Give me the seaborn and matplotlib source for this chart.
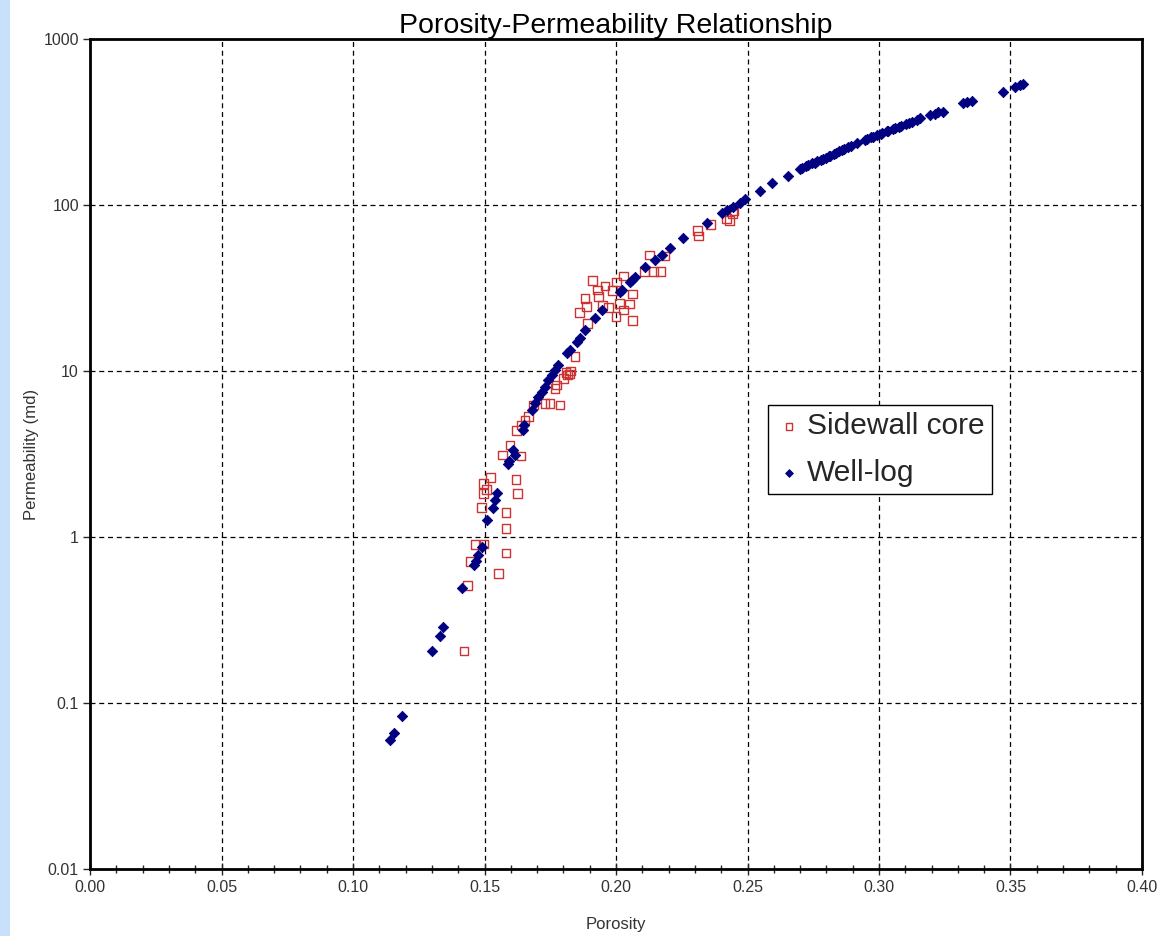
import numpy as np
import pandas as pd
import matplotlib
matplotlib.use("Agg")
import matplotlib.pyplot as plt
import seaborn as sns
from matplotlib.ticker import FixedLocator, MultipleLocator, FuncFormatter
from matplotlib.patches import Rectangle

# Sidewall core measurements
core_porosity = [
    0.1422, 0.1435, 0.1447, 0.1464, 0.1498, 0.1553, 0.1582, 0.1582, 0.1582, 0.1489,
    0.1496, 0.1508, 0.1496, 0.1523, 0.1620, 0.1626, 0.1569, 0.1597, 0.1639, 0.1622,
    0.1641, 0.1654, 0.1667, 0.1686, 0.1730, 0.1749, 0.1787, 0.1768, 0.1775, 0.1800,
    0.1815, 0.1810, 0.1822, 0.1828, 0.1844, 0.1891, 0.1860, 0.1888, 0.1882, 0.1911,
    0.1929, 0.1933, 0.1958, 0.1949, 0.1971, 0.1987, 0.2000, 0.2003, 0.2013, 0.2030,
    0.2030, 0.2051, 0.2063, 0.2063, 0.2127, 0.2108, 0.2142, 0.2170, 0.2186, 0.2309,
    0.2313, 0.2360, 0.2421, 0.2431, 0.2444, 0.2449,
]
core_perm = [
    0.206, 0.509, 0.71, 0.90, 0.908, 0.604, 0.80, 1.12, 1.41, 1.51,
    1.82, 1.94, 2.11, 2.29, 2.23, 1.82, 3.12, 3.58, 3.08, 4.37,
    4.73, 5.07, 5.30, 6.24, 6.39, 6.39, 6.24, 7.87, 8.24, 9.03,
    9.46, 9.80, 9.60, 10.0, 12.2, 19.4, 22.5, 24.4, 27.4, 35.0,
    30.8, 28.0, 32.5, 25.0, 24.2, 30.5, 21.2, 34.4, 25.6, 37.3,
    23.3, 25.3, 29.1, 20.1, 50.0, 39.7, 39.7, 39.7, 49.3, 70.0,
    65.1, 75.9, 83.2, 80.4, 89.0, 92.4,
]

# Well-log derived values
log_porosity = [
    0.1140, 0.1156, 0.1185, 0.1302, 0.1331, 0.1344, 0.1413, 0.1460, 0.1467, 0.1474,
    0.1489, 0.1511, 0.1531, 0.1540, 0.1549, 0.1588, 0.1595, 0.1610, 0.1615, 0.1645,
    0.1652, 0.1679, 0.1692, 0.1705, 0.1717, 0.1730, 0.1743, 0.1755, 0.1768, 0.1781,
    0.1812, 0.1825, 0.1850, 0.1863, 0.1882, 0.1920, 0.1946, 0.2015, 0.2022, 0.2053,
    0.2060, 0.2072, 0.2110, 0.2148, 0.2174, 0.2205, 0.2256, 0.2345, 0.2402, 0.2421,
    0.2446, 0.2471, 0.2490, 0.2548, 0.2592, 0.2655, 0.2700, 0.2709, 0.2723, 0.2731,
    0.2744, 0.2756, 0.2763, 0.2779, 0.2788, 0.2797, 0.2810, 0.2815, 0.2829, 0.2836,
    0.2849, 0.2861, 0.2868, 0.2884, 0.2893, 0.2915, 0.2947, 0.2955, 0.2971, 0.2978,
    0.2993, 0.3006, 0.3012, 0.3029, 0.3036, 0.3052, 0.3060, 0.3077, 0.3085, 0.3101,
    0.3113, 0.3126, 0.3144, 0.3156, 0.3194, 0.3212, 0.3226, 0.3245, 0.3320, 0.3336,
    0.3352, 0.3470, 0.3517, 0.3536, 0.3549,
]
log_perm = [
    0.060, 0.066, 0.083, 0.206, 0.253, 0.286, 0.491, 0.68, 0.72, 0.78,
    0.875, 1.27, 1.49, 1.67, 1.85, 2.75, 2.85, 3.34, 3.10, 4.41,
    4.70, 5.82, 6.39, 7.0, 7.5, 8.04, 8.83, 9.46, 10.1, 10.9,
    12.8, 13.4, 15.0, 15.7, 17.7, 20.8, 23.3, 30.0, 30.8, 34.4,
    35.3, 37.0, 42.4, 46.6, 49.9, 54.8, 63.0, 77.9, 89.5, 93.0,
    97.8, 103, 108, 122, 135, 150, 164, 166, 171, 173,
    178, 180, 184, 187, 190, 192, 197, 198, 204, 206,
    211, 214, 218, 224, 226, 235, 246, 249, 256, 258,
    264, 267, 271, 278, 280, 287, 289, 297, 300, 307,
    312, 318, 326, 333, 349, 354, 361, 365, 410, 418,
    425, 482, 512, 528, 536,
]

x_ticks = [0.00, 0.05, 0.10, 0.15, 0.20, 0.25, 0.30, 0.35, 0.40]
y_ticks = [0.01, 0.1, 1, 10, 100, 1000]
y_tick_labels = ["0.01", "0.1", "1", "10", "100", "1000"]

sns.set_style("white")
plt.rcParams["font.family"] = ["Liberation Sans", "DejaVu Sans"]

W, H = 1175, 936
fig = plt.figure(figsize=(W / 100, H / 100), dpi=100)
fig.patch.set_facecolor("white")
ax = fig.add_axes([90 / W, 1 - 869 / H, (1142 - 90) / W, (869 - 39) / H])

# Light blue strip along the left edge of the page
fig.patches.append(Rectangle((0, 0), 10 / W, 1, transform=fig.transFigure,
                             facecolor="#c9e0fb", edgecolor="none", zorder=0))

core = pd.DataFrame({"Porosity": core_porosity, "Permeability": core_perm})
well = pd.DataFrame({"Porosity": log_porosity, "Permeability": log_perm})

sns.scatterplot(data=core, x="Porosity", y="Permeability", ax=ax, marker="s",
                s=40, color="#cc3333", facecolors="none", edgecolor="#cc3333",
                linewidth=1.0, label="Sidewall core", zorder=3)
sns.scatterplot(data=well, x="Porosity", y="Permeability", ax=ax, marker="D",
                s=28, color="#000080", edgecolor="#000080", linewidth=0.6,
                label="Well-log", zorder=4)

ax.set_yscale("log")
ax.set_xlim(0, 0.40)
ax.set_ylim(0.01, 1000)

ax.xaxis.set_major_locator(FixedLocator(x_ticks))
ax.xaxis.set_minor_locator(MultipleLocator(0.01))
ax.xaxis.set_major_formatter(FuncFormatter(lambda v, p: f"{v:.2f}"))
ax.yaxis.set_major_locator(FixedLocator(y_ticks))
ax.yaxis.set_minor_locator(FixedLocator([]))
ax.set_yticklabels(y_tick_labels)

ax.tick_params(axis="x", which="major", direction="inout", length=8, width=1,
               labelsize=11.5, labelcolor="#333333", pad=4)
ax.tick_params(axis="x", which="minor", direction="inout", length=6, width=1)
ax.tick_params(axis="y", which="major", direction="out", length=5, width=1,
               labelsize=11.5, labelcolor="#333333", pad=3)
ax.tick_params(bottom=True, left=True, which="both")
ax.tick_params(axis="y", which="minor", left=False)

ax.grid(True, which="major", color="black", linestyle=(0, (4, 3)), linewidth=0.9)
ax.set_axisbelow(True)

for side in ["left", "right", "top", "bottom"]:
    ax.spines[side].set_visible(True)
    ax.spines[side].set_color("black")
    ax.spines[side].set_linewidth(2)

ax.set_title("Porosity-Permeability Relationship", fontsize=20.5, color="black", pad=3)
ax.set_xlabel("Porosity", fontsize=12, color="#333333", labelpad=16)
ax.set_ylabel("Permeability (md)", fontsize=12, color="#333333", labelpad=3)

leg = ax.legend(loc="upper left", bbox_to_anchor=((768 - 90) / 1052, (869 - 405) / 830),
                borderaxespad=0, frameon=True, fancybox=False, fontsize=21.5,
                markerscale=0.75, handletextpad=0.15, handlelength=0.9,
                borderpad=0.25, labelspacing=0.62)
leg.get_frame().set_edgecolor("black")
leg.get_frame().set_linewidth(1)
leg.get_frame().set_facecolor("white")
leg.get_frame().set_alpha(1)

fig.savefig("out.png", dpi=100)
